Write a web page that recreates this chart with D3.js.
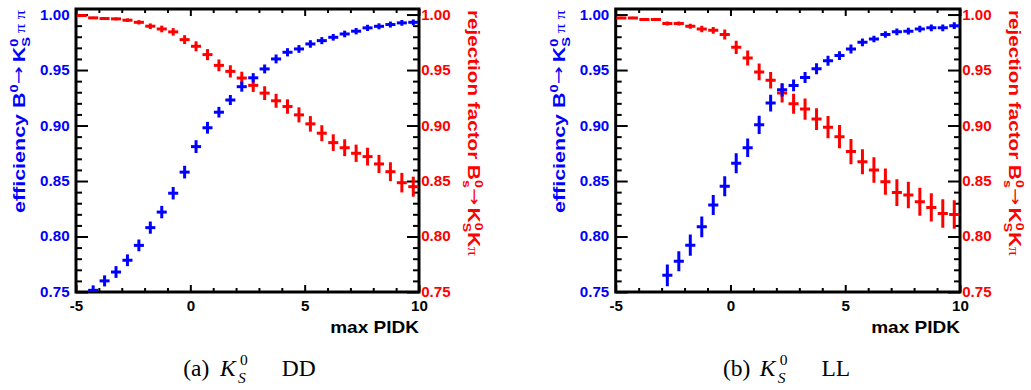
<!DOCTYPE html>
<html><head><meta charset="utf-8">
<script src="https://cdn.jsdelivr.net/npm/d3@7"></script>
<style>
body{margin:0;background:#fff}
svg{display:block}
text{white-space:pre}
</style>
</head><body>
<svg id="c" width="1031" height="390"></svg>
<script>
// ---------- DATA ----------
const bins = [-4.75,-4.25,-3.75,-3.25,-2.75,-2.25,-1.75,-1.25,-0.75,-0.25,0.25,0.75,1.25,1.75,2.25,2.75,3.25,3.75,4.25,4.75,5.25,5.75,6.25,6.75,7.25,7.75,8.25,8.75,9.25,9.75];

// (a) K0S DD
const effDD    = [null,0.7515,0.760,0.768,0.7786,0.792,0.808,0.822,0.839,0.858,0.881,0.898,0.912,0.923,0.935,0.943,0.951,0.960,0.966,0.969,0.9735,0.9765,0.9795,0.9825,0.985,0.988,0.9894,0.991,0.9925,0.993];
const effErrDD = [null,0.0045,0.005,0.0053,0.0053,0.0053,0.0055,0.0056,0.0056,0.0057,0.0058,0.0053,0.0048,0.0045,0.0045,0.0042,0.004,0.004,0.0037,0.0035,0.0034,0.0032,0.003,0.003,0.0029,0.0028,0.0027,0.0027,0.0026,0.0026];
const rejDD    = [0.9991,0.997,0.9964,0.9961,0.9949,0.993,0.9895,0.987,0.9844,0.9774,0.9714,0.9639,0.9542,0.9488,0.9428,0.9362,0.9292,0.9223,0.9171,0.9096,0.9015,0.8931,0.8846,0.880,0.875,0.872,0.8654,0.8584,0.8485,0.8449];
const rejErrDD = [0.0008,0.001,0.0011,0.0013,0.0016,0.002,0.0025,0.003,0.0034,0.004,0.0045,0.005,0.0053,0.0055,0.0057,0.006,0.0062,0.0063,0.0065,0.0068,0.007,0.0072,0.0075,0.0076,0.0078,0.008,0.0082,0.0085,0.0088,0.009];

// (b) K0S LL
const effLL    = [null,null,null,null,0.765,0.7777,0.7922,0.8087,0.8283,0.8453,0.866,0.880,0.9006,0.9202,0.9322,0.9361,0.9433,0.9512,0.9584,0.963,0.969,0.975,0.978,0.982,0.9844,0.985,0.987,0.988,0.988,0.990];
const effErrLL = [null,null,null,null,0.0098,0.009,0.0095,0.0093,0.009,0.009,0.009,0.0083,0.0083,0.0075,0.006,0.0053,0.005,0.005,0.0045,0.004,0.004,0.0035,0.003,0.003,0.003,0.003,0.003,0.003,0.003,0.003];
const rejLL    = [0.997,0.997,0.9955,0.9955,0.9919,0.9919,0.9895,0.987,0.9858,0.982,0.9705,0.9609,0.9483,0.9408,0.9292,0.9196,0.9148,0.9058,0.8985,0.890,0.8765,0.8674,0.860,0.8494,0.8396,0.8374,0.8313,0.8262,0.8208,0.8199];
const rejErrLL = [0.001,0.001,0.0012,0.0012,0.0018,0.0018,0.0022,0.003,0.003,0.0045,0.006,0.0068,0.0075,0.0075,0.0085,0.009,0.0095,0.0098,0.01,0.0105,0.0113,0.0113,0.0115,0.0118,0.012,0.012,0.0127,0.0127,0.0128,0.0128];

// axes / labels
const xMajorTicks = [-5, 0, 5, 10];
const yMajorTicks = [0.75, 0.80, 0.85, 0.90, 0.95, 1.00];
const xTitle = "max PIDK";
const captionTags = ["(a)", "(b)"];
const captionSuffix = ["DD", "LL"];

// ---------- DRAW ----------
const svg = d3.select("#c");
const BLUE = "#0000ff", RED = "#ff0000";
const SANS = "'Liberation Sans', Arial, Helvetica, sans-serif";
const SERIF = "'Liberation Serif', 'Times New Roman', serif";
const TOP = 9, BOTTOM = 292;
const HALFW = 0.22;

const panels = [
  {x0: 76, x1: 419, eff: effDD, effErr: effErrDD, rej: rejDD, rejErr: rejErrDD, tag: captionTags[0], suf: captionSuffix[0]},
  {x0: 615.7, x1: 960, eff: effLL, effErr: effErrLL, rej: rejLL, rejErr: rejErrLL, tag: captionTags[1], suf: captionSuffix[1]}
];

function rich(g, pieces, size) {
  let x = 0;
  pieces.forEach(p => {
    if (p.gap) { x += p.gap; return; }
    if (p.sup !== undefined || p.sub !== undefined) {
      const s = size * 0.68;
      let w = 0;
      if (p.sup) {
        const t = g.append("text").attr("x", x).attr("y", -size * 0.45).attr("font-size", s).text(p.sup);
        w = Math.max(w, t.node().getComputedTextLength());
      }
      if (p.sub) {
        const t = g.append("text").attr("x", x).attr("y", size * 0.3).attr("font-size", s).text(p.sub);
        w = Math.max(w, t.node().getComputedTextLength());
      }
      x += w;
    } else {
      const t = g.append("text").attr("x", x).attr("y", p.dy || 0)
        .attr("font-size", (p.scale || 1) * size).text(p.t);
      if (p.family) t.attr("font-family", p.family);
      if (p.weight) t.attr("font-weight", p.weight);
      x += t.node().getComputedTextLength();
    }
  });
  return x;
}

panels.forEach((P, pi) => {
  const x = d3.scaleLinear().domain([-5, 10]).range([P.x0, P.x1]);
  const y = d3.scaleLinear().domain([0.75, 1.005]).range([BOTTOM, TOP]);
  const g = svg.append("g");

  const clipId = "clip" + pi;
  svg.append("clipPath").attr("id", clipId).append("rect")
    .attr("x", P.x0).attr("y", TOP).attr("width", P.x1 - P.x0).attr("height", BOTTOM - TOP);

  const styleAxis = (sel) => {
    sel.select(".domain").remove();
    sel.selectAll(".tick line").attr("stroke", "#000").attr("stroke-width", 2);
  };
  const fmtY = d3.format(".2f");
  const fmtX = d => String(d);
  const yMinor = d3.range(76, 100).map(v => v / 100).filter(v => Math.round(v * 100) % 5 !== 0);

  // left axis (blue labels)
  g.append("g").attr("transform", `translate(${P.x0},0)`)
    .call(d3.axisLeft(y).tickValues(yMajorTicks).tickSizeInner(-12).tickSizeOuter(0).tickPadding(6).tickFormat(fmtY))
    .call(styleAxis)
    .call(s => s.selectAll("text").attr("fill", BLUE).attr("font-family", SANS).attr("font-weight", "bold").attr("font-size", 14).attr("transform", "scale(1.08,1)"));
  g.append("g").attr("transform", `translate(${P.x0},0)`)
    .call(d3.axisLeft(y).tickValues(yMinor).tickSizeInner(-6).tickSizeOuter(0).tickFormat(""))
    .call(styleAxis);

  // right axis (red labels)
  g.append("g").attr("transform", `translate(${P.x1},0)`)
    .call(d3.axisRight(y).tickValues(yMajorTicks).tickSizeInner(-12).tickSizeOuter(0).tickPadding(2).tickFormat(fmtY))
    .call(styleAxis)
    .call(s => s.selectAll("text").attr("fill", RED).attr("font-family", SANS).attr("font-weight", "bold").attr("font-size", 14).attr("transform", "scale(1.08,1)"));
  g.append("g").attr("transform", `translate(${P.x1},0)`)
    .call(d3.axisRight(y).tickValues(yMinor).tickSizeInner(-6).tickSizeOuter(0).tickFormat(""))
    .call(styleAxis);

  // bottom axis
  const xMinor = d3.range(-4, 10).filter(v => v % 5 !== 0);
  g.append("g").attr("transform", `translate(0,${BOTTOM})`)
    .call(d3.axisBottom(x).tickValues(xMajorTicks).tickSizeInner(-7).tickSizeOuter(0).tickPadding(9).tickFormat(fmtX))
    .call(styleAxis)
    .call(s => s.selectAll("text").attr("fill", "#000").attr("font-family", SANS).attr("font-weight", "bold").attr("font-size", 14).attr("transform", "scale(1.08,1)"));
  g.append("g").attr("transform", `translate(0,${BOTTOM})`)
    .call(d3.axisBottom(x).tickValues(xMinor).tickSizeInner(-4).tickSizeOuter(0).tickFormat(""))
    .call(styleAxis);
  // top axis (ticks only)
  g.append("g").attr("transform", `translate(0,${TOP})`)
    .call(d3.axisTop(x).tickValues(xMajorTicks).tickSizeInner(-7).tickSizeOuter(0).tickFormat(""))
    .call(styleAxis);
  g.append("g").attr("transform", `translate(0,${TOP})`)
    .call(d3.axisTop(x).tickValues(xMinor).tickSizeInner(-4).tickSizeOuter(0).tickFormat(""))
    .call(styleAxis);

  // frame
  g.append("rect").attr("x", P.x0).attr("y", TOP).attr("width", P.x1 - P.x0).attr("height", BOTTOM - TOP)
    .attr("fill", "none").attr("stroke", "#000").attr("stroke-width", 3);

  // data markers
  const marks = g.append("g").attr("clip-path", `url(#${clipId})`);
  const drawSeries = (vals, errs, color) => {
    const pts = bins.map((b, i) => ({b, v: vals[i], e: errs[i]})).filter(d => d.v !== null);
    const sg = marks.append("g").attr("stroke", color).attr("stroke-width", 3);
    sg.selectAll("line.h").data(pts).join("line").attr("class", "h")
      .attr("x1", d => x(d.b - HALFW)).attr("x2", d => x(d.b + HALFW))
      .attr("y1", d => y(d.v)).attr("y2", d => y(d.v));
    sg.selectAll("line.v").data(pts).join("line").attr("class", "v")
      .attr("x1", d => x(d.b)).attr("x2", d => x(d.b))
      .attr("y1", d => y(d.v - d.e)).attr("y2", d => y(d.v + d.e));
  };
  drawSeries(P.rej, P.rejErr, RED);
  drawSeries(P.eff, P.effErr, BLUE);

  // x title
  g.append("text").attr("x", P.x1).attr("y", 333).attr("text-anchor", "end")
    .attr("font-family", SANS).attr("font-weight", "bold").attr("font-size", 17)
    .attr("transform", `translate(${P.x1},0) scale(1.12,1) translate(${-P.x1},0)`)
    .text(xTitle);

  const ARROW = {t: "\u2192", family: "'DejaVu Sans', sans-serif", weight: "normal", scale: 1.0, dy: -1};

  // left (blue) title, rotated
  const lt = g.append("g").attr("fill", BLUE).attr("font-family", SANS).attr("font-weight", "bold");
  const lw = rich(lt, [
    {t: "efficiency B"}, {sup: "0"}, ARROW, {gap: 3}, {t: "K"}, {sup: "0", sub: "S"},
    {gap: 3}, {t: "\u03c0 \u03c0", family: SERIF, weight: "normal", scale: 0.85}
  ], 16);
  const lTarget = 203;
  lt.attr("transform", `translate(${P.x0 - 51},${10 + lTarget}) rotate(-90) scale(${lTarget / lw},1)`);

  // right (red) title, rotated
  const rt = g.append("g").attr("fill", RED).attr("font-family", SANS).attr("font-weight", "bold");
  const rw = rich(rt, [
    {t: "rejection factor B"}, {sup: "0", sub: "s"}, ARROW, {gap: 2}, {t: "K"}, {sup: "0", sub: "S"},
    {t: "K"}, {t: "\u03c0", family: SERIF, weight: "normal", scale: 0.85}
  ], 16);
  const rTarget = 246;
  rt.attr("transform", `translate(${P.x1 + 49},10) rotate(90) scale(${rTarget / rw},1)`);

  // caption
  const cg = svg.append("g").attr("font-family", SERIF).attr("fill", "#000");
  cg.append("text").attr("x", P.x0 + 107.3).attr("y", 376).attr("font-size", 23.5).text(P.tag);
  cg.append("text").attr("x", P.x0 + 144).attr("y", 376).attr("font-size", 23.5).attr("font-style", "italic").text("K");
  cg.append("text").attr("x", P.x0 + 164).attr("y", 364.5).attr("font-size", 15.5).text("0");
  cg.append("text").attr("x", P.x0 + 162).attr("y", 382.5).attr("font-size", 15.5).attr("font-style", "italic").text("S");
  cg.append("text").attr("x", P.x0 + 205.7).attr("y", 376).attr("font-size", 23.5).text(P.suf);
});
</script>
</body></html>
